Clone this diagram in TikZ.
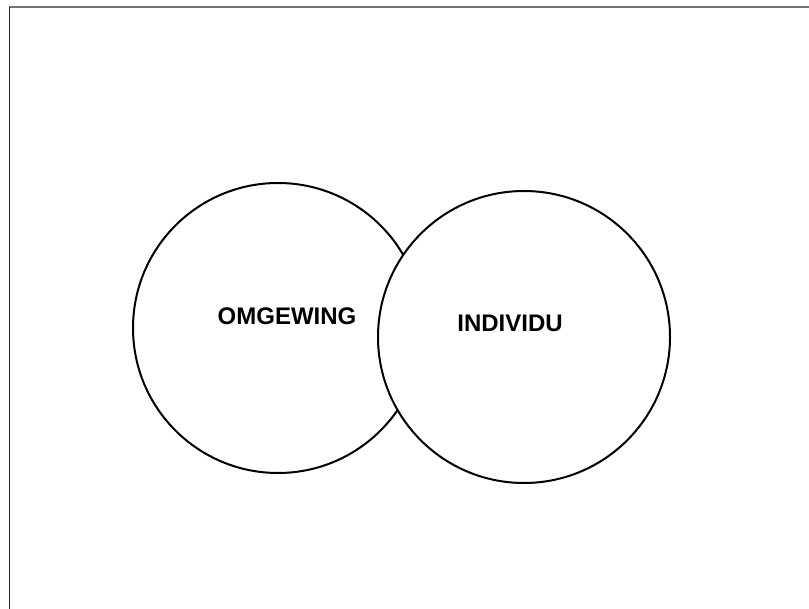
\documentclass[tikz,border=0pt]{standalone}
\usepackage{fontspec}
\setmainfont{Liberation Sans}
\begin{document}
\begin{tikzpicture}[x=1pt,y=-1pt,
  ring/.style={draw=black,line width=2pt,fill=white,circle,minimum size=#1,inner sep=0pt},
  lbl/.style={font=\fontsize{24}{28}\selectfont\bfseries,inner sep=0pt}]
\useasboundingbox (0,0) rectangle (809,609);
\draw[line width=2pt,black!55] (9,7.5) -- (809,7.5);
\draw[line width=1.6pt,black!85] (9.5,7) -- (9.5,609);
\node[ring=290pt] (omg) at (278,328) {};
\node[ring=292pt] (ind) at (524,337) {};
\node[lbl] (t1) at (287,316) {OMGEWING};
\node[lbl] (t2) at (510,323) {INDIVIDU};
\end{tikzpicture}
\end{document}
